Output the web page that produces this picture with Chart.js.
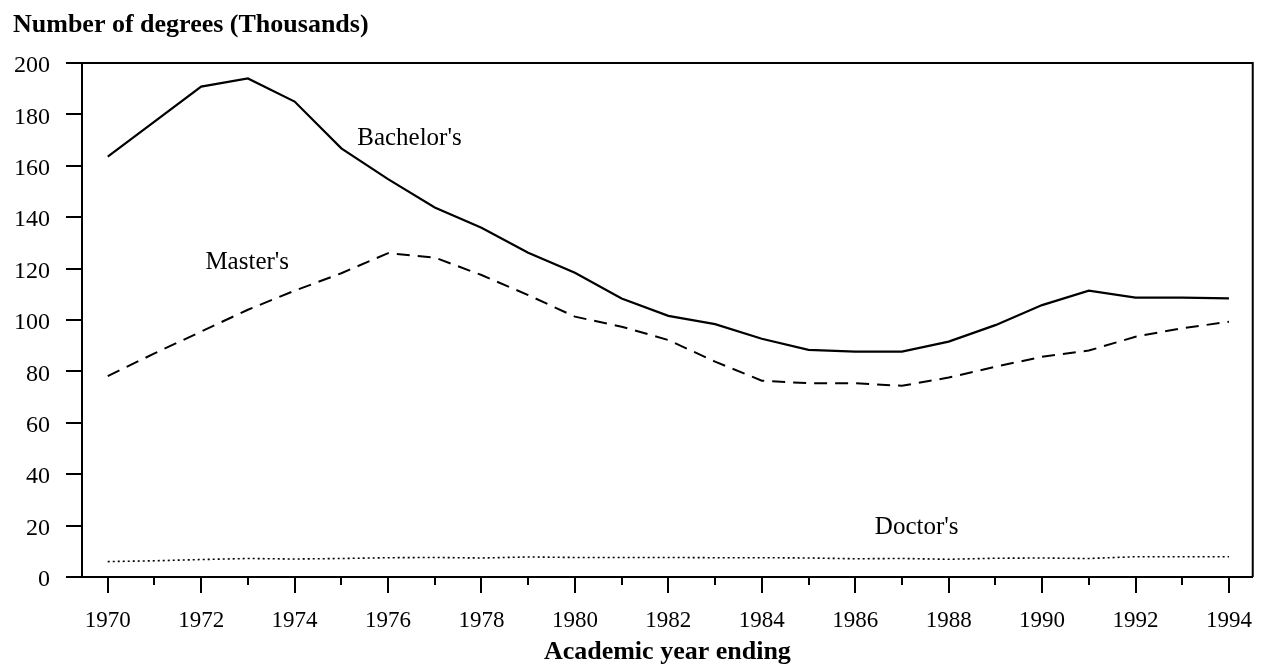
<!DOCTYPE html>
<html>
<head>
<meta charset="utf-8">
<script src="https://cdn.jsdelivr.net/npm/chart.js@4/dist/chart.umd.min.js"></script>
<style>
  html, body { margin: 0; padding: 0; background: #fff; }
  #wrap { width: 1266px; height: 666px; position: relative; }
</style>
</head>
<body>
<div id="wrap"><canvas id="chart" width="1266" height="666"></canvas></div>
<script>
const years = [1970, 1971, 1972, 1973, 1974, 1975, 1976, 1977, 1978, 1979, 1980, 1981, 1982,
  1983, 1984, 1985, 1986, 1987, 1988, 1989, 1990, 1991, 1992, 1993, 1994]
const bachelors = [163.6, 177.2, 190.8, 194.0, 185.0, 166.8, 154.8, 143.8, 135.9, 126.2, 118.4, 108.4, 101.6,
  98.4, 92.7, 88.4, 87.7, 87.7, 91.6, 98.0, 105.8, 111.4, 108.7, 108.7, 108.4]
const masters = [78.2, 87.0, 95.5, 104.0, 111.4, 118.2, 126.0, 124.3, 117.5, 109.7, 101.3, 97.4, 92.2,
  83.8, 76.4, 75.4, 75.4, 74.4, 77.6, 81.8, 85.7, 88.1, 93.5, 96.8, 99.3]
const doctors = [6.0, 6.3, 6.8, 7.2, 7.0, 7.2, 7.5, 7.6, 7.4, 7.8, 7.6, 7.6, 7.6,
  7.5, 7.5, 7.4, 7.1, 7.2, 6.9, 7.3, 7.4, 7.2, 7.9, 7.9, 7.9]
const yTicks = [0, 20, 40, 60, 80, 100, 120, 140, 160, 180, 200]

// series labels placed in data coordinates
const seriesNotes = [
  { text: "Bachelor's", x: 1975.34, y: 168.1 },
  { text: "Master's", x: 1972.09, y: 119.8 },
  { text: "Doctor's", x: 1986.42, y: 16.7 }
]

const SERIF = '"Liberation Serif", "Times New Roman", serif'

const toPoints = vals => years.map((yr, i) => ({ x: yr, y: vals[i] }))

const frame = {
  id: 'frame',
  afterDraw(chart) {
    const { ctx, chartArea } = chart
    const xs = chart.scales.x
    ctx.save()
    ctx.strokeStyle = '#000'
    ctx.lineWidth = 2
    // top and right edge of the box
    ctx.beginPath()
    ctx.moveTo(66, chartArea.top)
    ctx.lineTo(chartArea.right, chartArea.top)
    ctx.lineTo(chartArea.right, chartArea.bottom)
    ctx.stroke()
    // year ticks, long for even years
    years.forEach(yr => {
      const px = Math.round(xs.getPixelForValue(yr))
      const len = yr % 2 === 0 ? 16 : 8
      ctx.beginPath()
      ctx.moveTo(px, chartArea.bottom)
      ctx.lineTo(px, chartArea.bottom + len)
      ctx.stroke()
    })

    ctx.fillStyle = '#000'
    ctx.textBaseline = 'alphabetic'
    ctx.font = `bold 26px ${SERIF}`
    ctx.textAlign = 'left'
    ctx.fillText('Number of degrees (Thousands)', 13, 32)
    ctx.textAlign = 'center'
    ctx.fillText('Academic year ending', (chartArea.left + chartArea.right) / 2, 659)

    ctx.font = `25px ${SERIF}`
    ctx.textAlign = 'left'
    seriesNotes.forEach(n => {
      ctx.fillText(n.text, xs.getPixelForValue(n.x), chart.scales.y.getPixelForValue(n.y))
    })
    ctx.restore()
  }
}

new Chart(document.getElementById('chart'), {
  type: 'line',
  data: {
    datasets: [
      {
        label: "Bachelor's",
        data: toPoints(bachelors),
        borderColor: '#000',
        borderWidth: 2.2,
        pointRadius: 0
      },
      {
        label: "Master's",
        data: toPoints(masters),
        borderColor: '#000',
        borderWidth: 2,
        borderDash: [13, 8],
        pointRadius: 0
      },
      {
        label: "Doctor's",
        data: toPoints(doctors),
        borderColor: '#000',
        borderWidth: 1.6,
        borderDash: [2, 3],
        pointRadius: 0
      }
    ]
  },
  options: {
    responsive: false,
    animation: false,
    events: [],
    layout: { padding: { left: 0, right: 2, top: 63, bottom: 0 } },
    plugins: {
      legend: { display: false },
      tooltip: { enabled: false }
    },
    scales: {
      x: {
        type: 'linear',
        min: 1969.449,
        max: 1994.509,
        afterBuildTicks: s => { s.ticks = years.filter(y => y % 2 === 0).map(v => ({ value: v })) },
        afterFit: s => { s.height = 89 },
        ticks: {
          autoSkip: false,
          maxRotation: 0,
          padding: 14,
          color: '#000',
          font: { family: SERIF, size: 23 },
          callback: v => String(v)
        },
        grid: { display: true, drawOnChartArea: false, drawTicks: true, tickLength: 16, color: 'rgba(0,0,0,0)' },
        border: { display: true, color: '#000', width: 2 }
      },
      y: {
        min: 0,
        max: 200,
        afterBuildTicks: s => { s.ticks = yTicks.map(v => ({ value: v })) },
        afterFit: s => { s.width = 82 },
        ticks: {
          padding: 16,
          labelOffset: 3,
          color: '#000',
          font: { family: SERIF, size: 24 }
        },
        grid: { display: true, drawOnChartArea: false, drawTicks: true, tickLength: 16, color: '#000', lineWidth: 2 },
        border: { display: true, color: '#000', width: 2 }
      }
    }
  },
  plugins: [frame]
})
</script>
</body>
</html>
